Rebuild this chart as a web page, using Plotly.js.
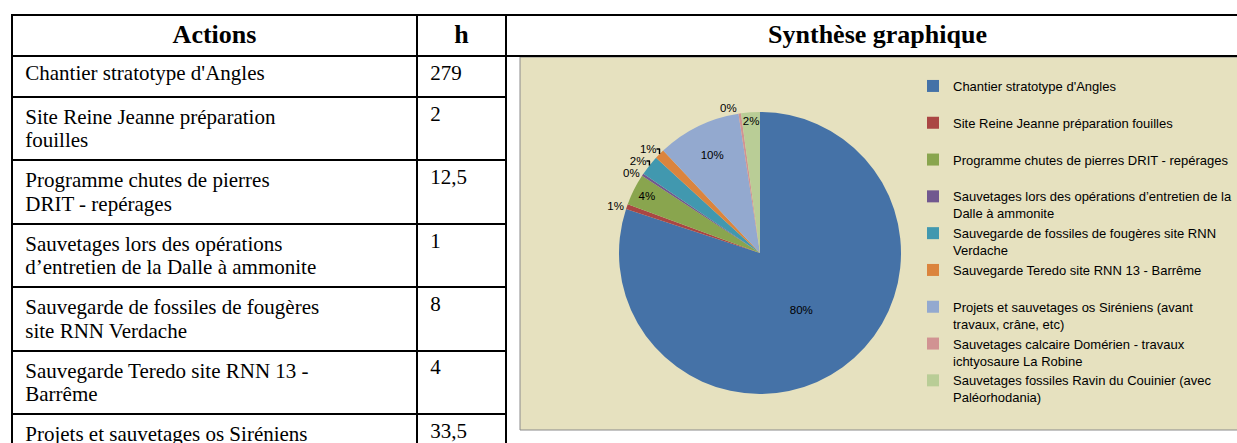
<!DOCTYPE html>
<html>
<head>
<meta charset="utf-8">
<script src="https://cdn.plot.ly/plotly-3.0.1.min.js"></script>
<style>
html,body{margin:0;padding:0;overflow:hidden;background:#fff;width:1237px;height:443px}
#chart{width:1300px;height:700px}
</style>
</head>
<body>
<div id="chart"></div>
<script>
// ---------- data ----------
const headerActions = 'Actions';
const headerHours = 'h';
const chartTitle = 'Synthèse graphique';
const actions = [
  "Chantier stratotype d'Angles",
  "Site Reine Jeanne préparation<br>fouilles",
  "Programme chutes de pierres<br>DRIT - repérages",
  "Sauvetages lors des opérations<br>d’entretien de la Dalle à ammonite",
  "Sauvegarde de fossiles de fougères<br>site RNN Verdache",
  "Sauvegarde Teredo site RNN 13 -<br>Barrême",
  "Projets et sauvetages os Siréniens<br>(avant travaux, crâne, etc)",
  "Sauvetages calcaire Domérien -<br>travaux ichtyosaure La Robine",
  "Sauvetages fossiles Ravin du Couinier<br>(avec Paléorhodania)"
];
const hours = [279, 2, 12.5, 1, 8, 4, 33.5, 1, 7.5];
const sliceColors = ['#4572A7','#AA4643','#89A54E','#71588F','#4198AF','#DB843D','#93A9CF','#D19392','#B9CD96'];
const labelPositions = ['inside','outside','inside','outside','outside','outside','inside','outside','inside'];

// ---------- helpers ----------
const W = 1300, H = 700;
const px = x => x / W;
const py = y => 1 - y / H;
const INDENT = '\u00a0';
const fmtHours = v => INDENT + String(v).replace('.', ',');

const GLYPH = 21;   // visible text size in table cells
const BASE = 18;    // base size controlling line spacing of wrapped cells
const sizedCell = s => s.includes('<br>')
  ? s.split('<br>').map(l => '<span style="font-size:' + GLYPH + 'px">' + INDENT + l + '</span>').join('<br>')
  : INDENT + s;

const ctx = document.createElement('canvas').getContext('2d');
function wrap(str, font, maxWidth, minLines) {
  ctx.font = font;
  const words = str.split(' ');
  const lines = [];
  let cur = '';
  for (const w of words) {
    const t = cur ? cur + ' ' + w : w;
    if (cur && ctx.measureText(t).width > maxWidth) { lines.push(cur); cur = w; }
    else cur = t;
  }
  lines.push(cur);
  while (lines.length < minLines) lines.push('\u00a0');
  return lines.join('<br>');
}
const plainNames = actions.map(s => s.replace(/<br>/g, ' '));
const legendLabels = plainNames.map(s => wrap(s, "13px 'Liberation Sans'", 284, 2));

const border = {color: '#000', width: 2};
const headFont = {family: 'Liberation Serif', size: 26, color: '#000', weight: 'bold'};

const tableTrace = {
  type: 'table',
  domain: {x: [px(12), px(506)], y: [0, py(15)]},
  columnwidth: [405, 89],
  header: {
    values: [[headerActions], [headerHours]],
    align: 'center', height: 41, line: border, fill: {color: '#fff'}, font: headFont
  },
  cells: {
    values: [actions.map(sizedCell), hours.map(fmtHours)],
    align: 'left', height: 41, line: border, fill: {color: '#fff'},
    font: {
      family: 'Liberation Serif', color: '#000',
      size: [actions.map(s => s.includes('<br>') ? BASE : GLYPH), hours.map(() => GLYPH)]
    }
  }
};

const frameTrace = {
  type: 'table',
  domain: {x: [px(506), px(1249)], y: [0, py(15)]},
  header: {
    values: [[chartTitle.replace(/ /g, '\u00a0')]],
    align: 'center', height: 41, line: border, fill: {color: '#fff'}, font: headFont
  },
  cells: {
    values: [['']], height: 600, line: border, fill: {color: 'rgba(0,0,0,0)'}
  }
};

const pieTrace = {
  type: 'pie',
  labels: legendLabels,
  values: hours,
  sort: false,
  direction: 'clockwise',
  rotation: 0,
  marker: {colors: sliceColors, line: {width: 0}},
  texttemplate: '%{percent:.0%}',
  textposition: labelPositions,
  insidetextorientation: 'horizontal',
  textfont: {family: 'Liberation Sans', size: 11.5, color: '#000'},
  domain: {x: [px(619), px(901)], y: [py(394), py(112)]},
  hovertemplate: '%{label}<br>%{value} h (%{percent})<extra></extra>'
};

const layout = {
  width: W, height: H,
  margin: {l: 0, r: 0, t: 0, b: 0, autoexpand: false},
  paper_bgcolor: '#fff',
  showlegend: true,
  uniformtext: {mode: 'show', minsize: 11.5},
  legend: {
    x: px(913), y: py(71), xanchor: 'left', yanchor: 'top', valign: 'top',
    font: {family: 'Liberation Sans', size: 13, color: '#000'},
    bgcolor: 'rgba(0,0,0,0)', borderwidth: 0
  },
  shapes: [{
    type: 'rect', xref: 'paper', yref: 'paper', layer: 'below',
    x0: px(520), x1: px(1290), y0: py(430), y1: py(57),
    fillcolor: '#e6e1bf', line: {color: '#8a8a8a', width: 1}
  }]
};

Plotly.newPlot('chart', [pieTrace, tableTrace, frameTrace], layout, {displayModeBar: false});
</script>
</body>
</html>
